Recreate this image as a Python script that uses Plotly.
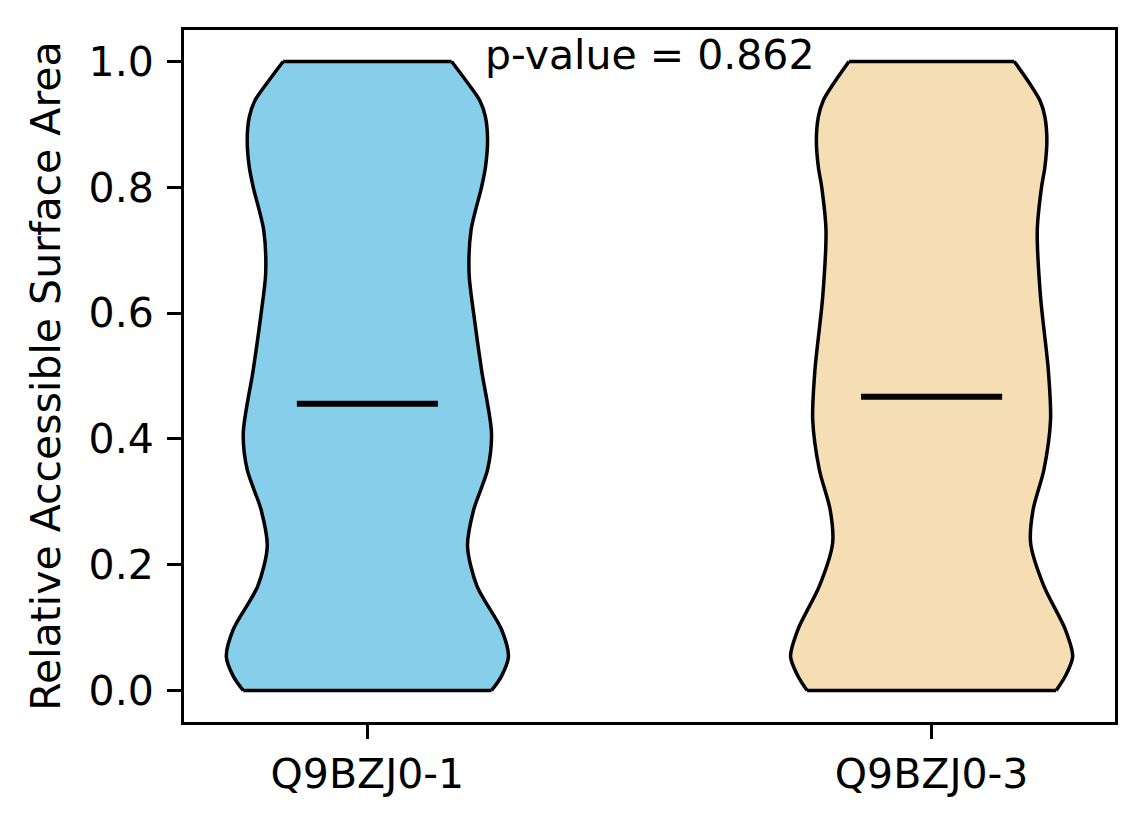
"""Violin plot of relative accessible surface area for two isoforms."""

import plotly.graph_objects as go

# isoform labels and their positions on the category axis
isoforms = ["Q9BZJ0-1", "Q9BZJ0-3"]
positions = [1, 2]
fill_colors = ["#87CEEB", "#F5DEB3"]

# density profile (value level, normalised density)
rsa_levels_1 = [0.0, 0.023, 0.054, 0.097, 0.166, 0.229, 0.287, 0.351, 0.409,
                0.510, 0.600, 0.663, 0.732, 0.800, 0.832, 0.875, 0.912, 0.938,
                0.965, 1.0]
density_1 = [0.880, 0.951, 1.0, 0.951, 0.777, 0.710, 0.753, 0.852, 0.880,
             0.809, 0.753, 0.721, 0.735, 0.809, 0.837, 0.852, 0.837, 0.797,
             0.714, 0.597]

rsa_levels_3 = [0.0, 0.023, 0.054, 0.097, 0.166, 0.234, 0.287, 0.351, 0.430,
                0.510, 0.626, 0.732, 0.800, 0.832, 0.875, 0.912, 0.938, 0.965,
                1.0]
density_3 = [0.883, 0.948, 1.0, 0.948, 0.796, 0.702, 0.719, 0.796, 0.843,
             0.827, 0.772, 0.749, 0.779, 0.803, 0.817, 0.803, 0.768, 0.695,
             0.586]

means = [0.456, 0.467]
p_value = 0.862

HALF_WIDTH = 0.25
FONT = "DejaVu Sans"
EDGE = {"color": "black", "width": 3.5}

fig = go.Figure()

profiles = [(rsa_levels_1, density_1), (rsa_levels_3, density_3)]
for pos, (levels, dens), color in zip(positions, profiles, fill_colors):
    left = [pos - HALF_WIDTH * d for d in dens]
    right = [pos + HALF_WIDTH * d for d in dens]
    # left and right outlines are smoothed; the fill spans between them
    fig.add_trace(go.Scatter(
        x=left, y=levels, mode="lines",
        line={**EDGE, "shape": "spline", "smoothing": 0.8},
        hoverinfo="skip", showlegend=False,
    ))
    fig.add_trace(go.Scatter(
        x=right, y=levels, mode="lines", fill="tonextx", fillcolor=color,
        line={**EDGE, "shape": "spline", "smoothing": 0.8},
        hoverinfo="skip", showlegend=False,
    ))
    # flat caps at the data min / max
    for i in (0, -1):
        fig.add_trace(go.Scatter(
            x=[left[i], right[i]], y=[levels[i], levels[i]], mode="lines",
            line=EDGE, hoverinfo="skip", showlegend=False,
        ))

for pos, mean in zip(positions, means):
    fig.add_trace(go.Scatter(
        x=[pos - HALF_WIDTH / 2, pos + HALF_WIDTH / 2], y=[mean, mean],
        mode="lines", line={"color": "black", "width": 6},
        hoverinfo="skip", showlegend=False,
    ))

fig.add_annotation(
    x=sum(positions) / 2, y=1.01, xref="x", yref="y",
    text=f"p-value = {p_value:.3f}", showarrow=False,
    xanchor="center", yanchor="middle",
    font={"family": FONT, "size": 41, "color": "black"},
)

axis_style = {
    "showline": True, "linecolor": "black", "linewidth": 3, "mirror": True,
    "ticks": "outside", "ticklen": 14, "tickwidth": 3, "tickcolor": "black",
    "showgrid": False, "zeroline": False,
    "tickfont": {"family": FONT, "size": 41, "color": "black"},
}

fig.update_xaxes(
    range=[0.675, 2.325], tickvals=positions, ticktext=isoforms, **axis_style,
)
fig.update_yaxes(
    range=[-0.05, 1.05], tickvals=[0.0, 0.2, 0.4, 0.6, 0.8, 1.0],
    tickformat=".1f", ticklabelstandoff=5,
    title={"text": "Relative Accessible Surface Area", "standoff": 16,
           "font": {"family": FONT, "size": 41, "color": "black"}},
    **axis_style,
)

fig.update_layout(
    width=1144, height=824,
    margin={"l": 176, "r": 37, "t": 22, "b": 110},
    plot_bgcolor="white", paper_bgcolor="white",
    font={"family": FONT, "color": "black"},
)

fig.write_html("out.html")
